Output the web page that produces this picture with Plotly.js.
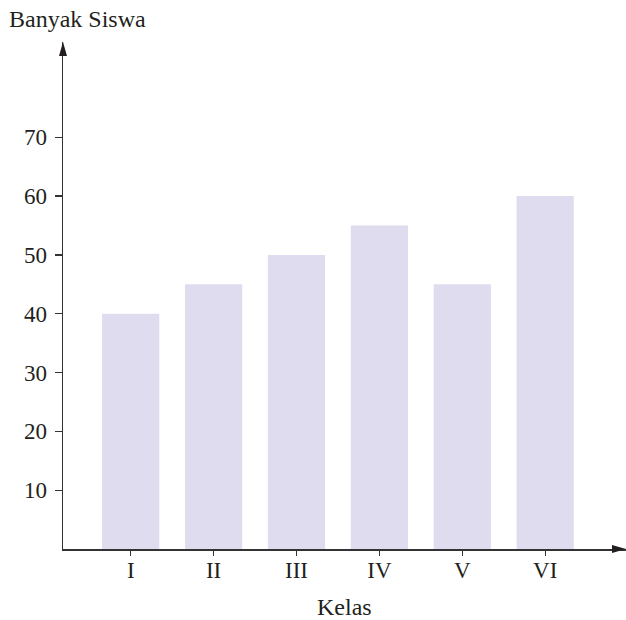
<!DOCTYPE html>
<html>
<head>
<meta charset="utf-8">
<script src="https://cdn.plot.ly/plotly-3.0.1.min.js"></script>
<style>html,body{margin:0;padding:0;background:#fff;}#chart{width:626px;height:620px;}</style>
</head>
<body>
<div id="chart"></div>
<script>
const categories = ["I", "II", "III", "IV", "V", "VI"];
const values = [40, 45, 50, 55, 45, 60];
const yTicks = [10, 20, 30, 40, 50, 60, 70];
const yTitle = "Banyak Siswa";
const xTitle = "Kelas";

const font = {family: "Liberation Serif, Times New Roman, serif", size: 23, color: "#231f20"};
const titleFont = {family: "Liberation Serif, Times New Roman, serif", size: 24, color: "#231f20"};
const axisColor = "#333333";

const trace = {
  type: "bar",
  x: categories,
  y: values,
  marker: {color: "#dedcee", line: {width: 0}},
  hoverinfo: "none"
};

const W = 563, H = 507;
const layout = {
  width: 626, height: 620,
  margin: {l: 63, r: 0, t: 42, b: 71, pad: 0},
  paper_bgcolor: "#fff", plot_bgcolor: "#fff",
  showlegend: false,
  bargap: 0.31,
  font: font,
  xaxis: {
    type: "category",
    range: [-0.817, 5.975],
    showline: true, linecolor: axisColor, linewidth: 1.5,
    ticks: "outside", ticklen: 5, tickwidth: 1.3, tickcolor: axisColor,
    showgrid: false, zeroline: false,
    tickfont: font,
    ticklabelstandoff: -5,
    fixedrange: true
  },
  yaxis: {
    range: [0, 86.2],
    tickvals: yTicks,
    ticktext: yTicks.map(String),
    showline: true, linecolor: axisColor, linewidth: 1.5,
    ticks: "outside", ticklen: 7, tickwidth: 1.3, tickcolor: axisColor,
    showgrid: false, zeroline: false,
    tickfont: font,
    ticklabelstandoff: 3,
    fixedrange: true
  },
  shapes: [
    {type: "path", xref: "paper", yref: "paper",
     path: `M ${1 - 14/W},${4/H} L 1,0 L ${1 - 14/W},${-4/H} Z`,
     fillcolor: "#231f20", line: {width: 0}},
    {type: "path", xref: "paper", yref: "paper",
     path: `M ${-4/W},${1 - 14/H} L 0,1 L ${4/W},${1 - 14/H} Z`,
     fillcolor: "#231f20", line: {width: 0}}
  ],
  annotations: [
    {text: yTitle, xref: "paper", yref: "paper", x: -56/W, y: 1 + 23/H,
     xanchor: "left", yanchor: "middle", showarrow: false, font: titleFont},
    {text: xTitle, xref: "paper", yref: "paper", x: 0.5, y: -58/H,
     xanchor: "center", yanchor: "middle", showarrow: false, font: titleFont}
  ]
};

Plotly.newPlot("chart", [trace], layout, {displayModeBar: false, staticPlot: true});
</script>
</body>
</html>
